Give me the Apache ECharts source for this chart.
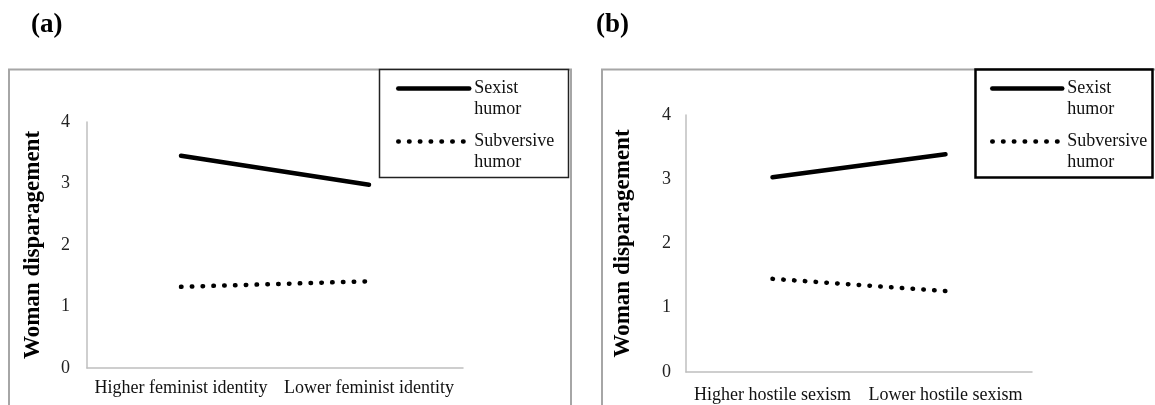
<!DOCTYPE html>
<html>
<head>
<meta charset="utf-8">
<script src="https://cdn.jsdelivr.net/npm/echarts@6/dist/echarts.min.js"></script>
<style>
  html, body { margin: 0; padding: 0; background: #fff; }
  #chart { width: 1155px; height: 405px; }
</style>
</head>
<body>
<div id="chart"></div>
<script>
// panel (a): feminist identity
const categoriesA = ['Higher feminist identity', 'Lower feminist identity']
const sexistA = [3.45, 2.98]
const subversiveA = [1.32, 1.41]

// panel (b): hostile sexism
const categoriesB = ['Higher hostile sexism', 'Lower hostile sexism']
const sexistB = [3.03, 3.39]
const subversiveB = [1.45, 1.26]

const yMin = 0
const yMax = 4
const yStep = 1
const seriesNames = ['Sexist humor', 'Subversive humor']

const serif = "'Liberation Serif', 'Times New Roman', serif"
const axisGray = '#bfbfbf'

const solidStyle = { color: '#000', width: 4.5, cap: 'round' }
const dottedStyle = { color: '#000', width: 4.5, type: [0.5, 10.3], cap: 'round' }

function yAxisOf(gridIndex, margin, nameGap) {
  return {
    type: 'value',
    gridIndex: gridIndex,
    min: yMin,
    max: yMax,
    interval: yStep,
    name: 'Woman disparagement',
    nameLocation: 'middle',
    nameRotate: 90,
    nameGap: nameGap,
    nameTextStyle: { fontFamily: serif, fontWeight: 'bold', fontSize: 23, color: '#000' },
    axisLine: { show: true, lineStyle: { color: axisGray, width: 1.5 } },
    axisTick: { show: false },
    splitLine: { show: false },
    axisLabel: { fontFamily: serif, fontSize: 18, color: '#222', margin: margin },
  }
}

function xAxisOf(gridIndex, cats, margin) {
  return {
    type: 'category',
    gridIndex: gridIndex,
    data: cats,
    boundaryGap: true,
    axisLine: { show: true, lineStyle: { color: axisGray, width: 1.5 } },
    axisTick: { show: false },
    axisLabel: { fontFamily: serif, fontSize: 18, color: '#111', margin: margin, interval: 0 },
  }
}

function legendOf(left, itemWidth) {
  return {
    left: left,
    top: 57,
    orient: 'vertical',
    padding: 0,
    itemGap: -10,
    itemWidth: itemWidth,
    itemHeight: 12,
    selectedMode: false,
    data: seriesNames,
    lineStyle: { width: 'inherit' },
    itemStyle: { opacity: 0 },
    // blank first line keeps the label's first word level with the line sample
    formatter: (name) => '\n' + name.replace(' ', '\n'),
    textStyle: { fontFamily: serif, fontSize: 18, lineHeight: 21, color: '#111' },
  }
}

function lineSeries(name, gridIndex, data, style) {
  return {
    name: name,
    type: 'line',
    xAxisIndex: gridIndex,
    yAxisIndex: gridIndex,
    data: data,
    symbol: 'none',
    showSymbol: false,
    silent: true,
    lineStyle: style,
    itemStyle: { color: '#000' },
  }
}

const chart = echarts.init(document.getElementById('chart'))

const option = {
  backgroundColor: '#fff',
  animation: false,
  title: [
    { text: '(a)', left: 26, top: 7, textStyle: { fontFamily: serif, fontWeight: 'bold', fontSize: 27, color: '#000' } },
    { text: '(b)', left: 591, top: 7, textStyle: { fontFamily: serif, fontWeight: 'bold', fontSize: 27, color: '#000' } },
  ],
  graphic: [
    // outer panel frames
    { type: 'rect', shape: { x: 9, y: 69.5, width: 562, height: 400 }, style: { fill: 'none', stroke: '#a6a6a6', lineWidth: 2 }, z: -1 },
    { type: 'rect', shape: { x: 602, y: 69.5, width: 600, height: 400 }, style: { fill: 'none', stroke: '#a6a6a6', lineWidth: 2 }, z: -1 },
    // legend boxes
    { type: 'rect', shape: { x: 379.5, y: 69.5, width: 189, height: 108 }, style: { fill: '#fff', stroke: '#222', lineWidth: 1.5 }, z: 0 },
    { type: 'rect', shape: { x: 975.5, y: 69.5, width: 177, height: 108 }, style: { fill: '#fff', stroke: '#000', lineWidth: 2.5 }, z: 0 },
  ],
  legend: [legendOf(396, 71), legendOf(990, 70)],
  grid: [
    { left: 87, top: 122, width: 376, height: 246 },
    { left: 686, top: 115, width: 346, height: 257 },
  ],
  xAxis: [xAxisOf(0, categoriesA, 11), xAxisOf(1, categoriesB, 14)],
  yAxis: [yAxisOf(0, 17, 42), yAxisOf(1, 15, 51)],
  series: [
    lineSeries(seriesNames[0], 0, sexistA, solidStyle),
    lineSeries(seriesNames[1], 0, subversiveA, dottedStyle),
    lineSeries(seriesNames[0], 1, sexistB, solidStyle),
    lineSeries(seriesNames[1], 1, subversiveB, dottedStyle),
  ],
}

chart.setOption(option)
</script>
</body>
</html>
